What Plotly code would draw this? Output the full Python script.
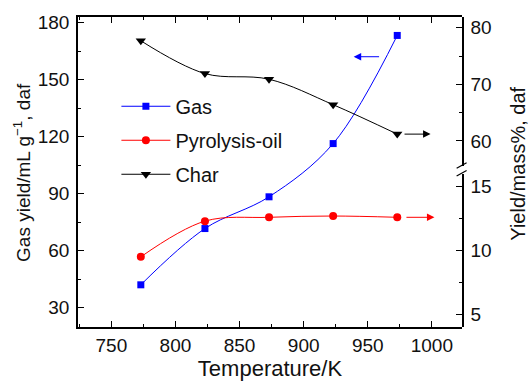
import plotly.graph_objects as go

temperature = [773, 823, 873, 923, 973]
gas_yield = [42.0, 71.6, 88.3, 116.3, 173.2]
oil_yield = [9.5, 12.3, 12.6, 12.7, 12.6]
char_yield = [77.7, 71.9, 70.9, 66.4, 61.2]

x_ticks = [750, 800, 850, 900, 950, 1000]
gas_ticks = [30, 60, 90, 120, 150, 180]
char_ticks = [60, 70, 80]
oil_ticks = [5, 10, 15]

FONT = "Liberation Sans, Arial, sans-serif"

fig = go.Figure()
fig.add_trace(go.Scatter(
    x=temperature, y=gas_yield, name="Gas", yaxis="y", legendgroup="g1",
    mode="lines+markers", line=dict(color="#0000ff", width=1, shape="spline"),
    marker=dict(symbol="square", size=7, color="#0000ff")))
fig.add_trace(go.Scatter(
    x=temperature, y=oil_yield, name="Pyrolysis-oil", yaxis="y3", legendgroup="g2",
    mode="lines+markers", line=dict(color="#ff0000", width=1, shape="spline"),
    marker=dict(symbol="circle", size=8, color="#ff0000")))
fig.add_trace(go.Scatter(
    x=temperature, y=char_yield, name="Char", yaxis="y2", legendgroup="g3",
    mode="lines+markers", line=dict(color="#000000", width=1, shape="spline"),
    marker=dict(symbol="triangle-down", size=9, color="#000000")))

axis_common = dict(showline=True, linecolor="black", linewidth=1.5, ticks="inside",
                   ticklen=6, tickwidth=1.2, tickcolor="black", showgrid=False,
                   zeroline=False, tickfont=dict(size=19, color="#111", family=FONT))

fig.update_layout(
    width=528, height=387,
    margin=dict(l=78, r=66, t=13, b=55),
    plot_bgcolor="rgba(0,0,0,0)", paper_bgcolor="white",
    font=dict(family=FONT, color="#111"),
    xaxis=dict(range=[724, 1023.5], tickvals=x_ticks, mirror="ticks",
               minor=dict(dtick=25, tick0=725, ticks="inside", ticklen=3, tickcolor="black"),
               title=dict(text="Temperature/K", font=dict(size=22, family=FONT), standoff=4),
               **axis_common),
    yaxis=dict(range=[19.8, 182.9], tickvals=gas_ticks, domain=[0, 1],
               minor=dict(dtick=15, tick0=15, ticks="inside", ticklen=3, tickcolor="black"),
               ticklabelstandoff=3, **axis_common),
    yaxis2=dict(range=[55.6, 81.9], tickvals=char_ticks, domain=[0.520, 1], side="right",
                anchor="x",
                minor=dict(dtick=5, tick0=55, ticks="inside", ticklen=3, tickcolor="black"),
                ticklabelstandoff=3, **axis_common),
    yaxis3=dict(range=[4.0, 16.03], tickvals=oil_ticks, domain=[0, 0.495], side="right",
                anchor="x",
                minor=dict(dtick=2.5, tick0=2.5, ticks="inside", ticklen=3, tickcolor="black"),
                ticklabelstandoff=3, **axis_common),
    legend=dict(x=0.10, y=0.775, xanchor="left", yanchor="top", bgcolor="rgba(0,0,0,0)",
                font=dict(size=20, family=FONT, color="#111"), itemwidth=49,
                tracegroupgap=5),
    showlegend=True,
)

# axis titles
fig.add_annotation(text="Gas yield/mL g<sup>−1</sup>, daf", xref="paper", yref="paper",
                   x=-0.146, y=0.5, textangle=-90, showarrow=False,
                   font=dict(size=19, family=FONT, color="#111"), xanchor="center", yanchor="middle")
fig.add_annotation(text="Yield/mass%, daf", xref="paper", yref="paper",
                   x=1.146, y=0.527, textangle=-90, showarrow=False,
                   font=dict(size=20, family=FONT, color="#111"), xanchor="center", yanchor="middle")

# arrows pointing to the corresponding axes
fig.add_annotation(x=939, y=162, ax=960, ay=162, xref="x", yref="y", axref="x", ayref="y",
                   text="", showarrow=True, arrowhead=2, arrowsize=1.5, arrowwidth=1, arrowcolor="#0000ff")
fig.add_annotation(x=999, y=61.2, ax=977.5, ay=61.2, xref="x", yref="y2", axref="x", ayref="y2",
                   text="", showarrow=True, arrowhead=2, arrowsize=1.5, arrowwidth=1, arrowcolor="#000000")
fig.add_annotation(x=1002, y=12.6, ax=979, ay=12.6, xref="x", yref="y3", axref="x", ayref="y3",
                   text="", showarrow=True, arrowhead=2, arrowsize=1.5, arrowwidth=1, arrowcolor="#ff0000")

# axis break marks
for y0, y1 in [(0.512, 0.530), (0.487, 0.505)]:
    fig.add_shape(type="line", xref="paper", yref="paper", x0=0.986, x1=1.012, y0=y0, y1=y1,
                  line=dict(color="black", width=1.2))

fig.write_html("out.html")
